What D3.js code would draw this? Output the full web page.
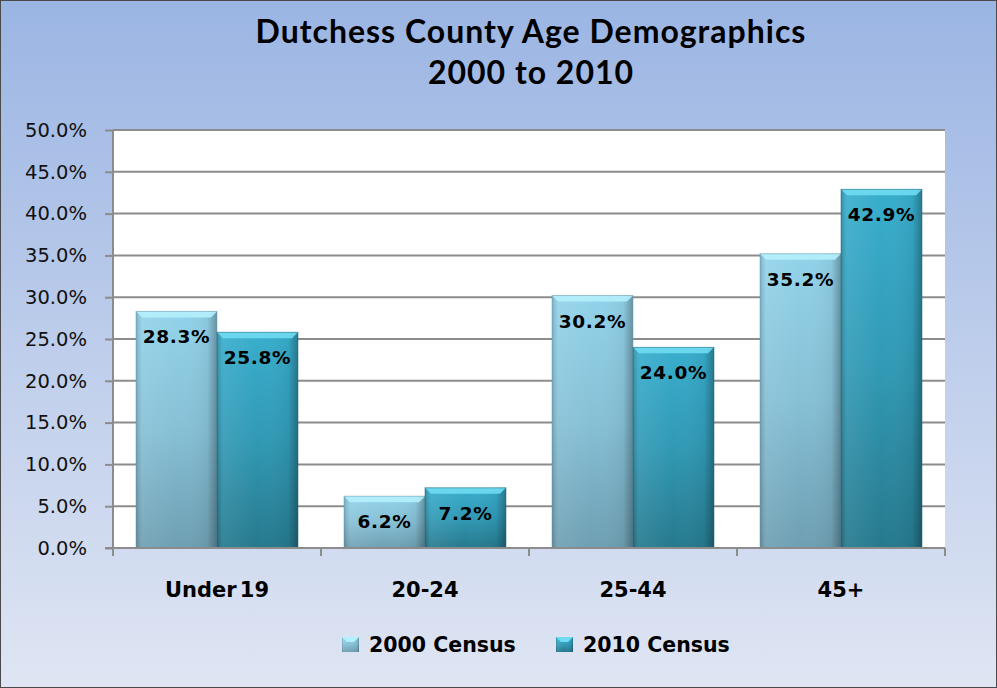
<!DOCTYPE html>
<html>
<head>
<meta charset="utf-8">
<script src="https://cdn.jsdelivr.net/npm/d3@7"></script>
<style>
  body { margin: 0; background: #fff; }
  svg { display: block; }
</style>
</head>
<body>
<svg width="997" height="688"></svg>
<script>
// Data
var categories = ["Under 19", "20-24", "25-44", "45+"];
var seriesNames = ["2000 Census", "2010 Census"];
var census2000 = [28.3, 6.2, 30.2, 35.2];
var census2010 = [25.8, 7.2, 24.0, 42.9];
var yTicks = [0, 5, 10, 15, 20, 25, 30, 35, 40, 45, 50];

var svg = d3.select("svg");
var W = 997, H = 688;
var margin = {top: 130, right: 52, bottom: 140, left: 113};
var width = W - margin.left - margin.right;
var height = H - margin.top - margin.bottom;

var defs = svg.append("defs");

// background
var bg = defs.append("linearGradient").attr("id", "bg").attr("x1", 0).attr("y1", 0).attr("x2", 0).attr("y2", 1);
bg.append("stop").attr("offset", "0%").attr("stop-color", "#9bb5e3");
bg.append("stop").attr("offset", "100%").attr("stop-color", "#dfe5f3");

// bar fills (vertical)
var fills = [
  ["#92d3ea", "#86c0d6", "#6e9fb2"],
  ["#38aecd", "#3199b5", "#26798d"]
];
fills.forEach(function(c, i) {
  var g = defs.append("linearGradient").attr("id", "fill" + i).attr("x1", 0).attr("y1", 0).attr("x2", 0).attr("y2", 1);
  g.append("stop").attr("offset", "0%").attr("stop-color", c[0]);
  g.append("stop").attr("offset", "50%").attr("stop-color", c[1]);
  g.append("stop").attr("offset", "100%").attr("stop-color", c[2]);
});
// edge shading (horizontal)
var edge = defs.append("linearGradient").attr("id", "edge").attr("x1", 0).attr("y1", 0).attr("x2", 1).attr("y2", 0);
edge.append("stop").attr("offset", "0%").attr("stop-color", "#000").attr("stop-opacity", 0.18);
edge.append("stop").attr("offset", "8%").attr("stop-color", "#fff").attr("stop-opacity", 0.08);
edge.append("stop").attr("offset", "50%").attr("stop-color", "#fff").attr("stop-opacity", 0);
edge.append("stop").attr("offset", "88%").attr("stop-color", "#000").attr("stop-opacity", 0.05);
edge.append("stop").attr("offset", "100%").attr("stop-color", "#000").attr("stop-opacity", 0.3);

svg.append("rect").attr("x", 0.5).attr("y", 0.5).attr("width", W - 1).attr("height", H - 1)
  .attr("fill", "url(#bg)").attr("stroke", "#4a4a4a").attr("stroke-width", 1);

// title
var title = svg.append("text").attr("text-anchor", "middle")
  .style("font-family", "Lato, 'Open Sans', sans-serif").style("font-weight", "bold")
  .style("font-size", "32px").style("letter-spacing", "1px").attr("fill", "#000");
title.append("tspan").attr("x", 531).attr("y", 43).text("Dutchess County Age Demographics");
title.append("tspan").attr("x", 531).attr("y", 84).text("2000 to 2010");

var g = svg.append("g").attr("transform", "translate(" + margin.left + "," + margin.top + ")");

var x0 = d3.scaleBand().domain(categories).range([0, width]).paddingInner(0).paddingOuter(0);
var x1 = d3.scaleBand().domain([0, 1]).range([23, x0.bandwidth() - 23]);
var y = d3.scaleLinear().domain([0, 50]).range([height, 0]);

// plot area
g.append("rect").attr("width", width).attr("height", height).attr("fill", "#fff");

// gridlines
g.append("g").selectAll("line").data(yTicks.slice(1)).enter().append("line")
  .attr("x1", 0).attr("x2", width)
  .attr("y1", function(d) { return y(d); }).attr("y2", function(d) { return y(d); })
  .attr("stroke", "#8c8c8c").attr("stroke-width", 2);

var fontTick = "'DejaVu Sans', Verdana, sans-serif";

// y axis
var yAxis = g.append("g")
  .call(d3.axisLeft(y).tickValues(yTicks).tickSize(8).tickPadding(18)
    .tickFormat(function(d) { return d.toFixed(1) + "%"; }));
yAxis.select(".domain").attr("stroke", "#8c8c8c").attr("stroke-width", 2).attr("d", "M0," + height + "V0");
yAxis.selectAll(".tick line").attr("stroke", "#8c8c8c").attr("stroke-width", 2);
yAxis.selectAll(".tick text").style("font-family", fontTick).style("font-size", "19.5px")
  .attr("fill", "#111");

// bars
var series = [census2000, census2010];
categories.forEach(function(cat, ci) {
  series.forEach(function(vals, si) {
    var bx = x0(cat) + x1(si), bw = x1.bandwidth();
    var by = y(vals[ci]), bh = height - by;
    var bar = g.append("g");
    bar.append("rect").attr("x", bx).attr("y", by).attr("width", bw).attr("height", bh)
      .attr("fill", "url(#fill" + si + ")");
    bar.append("rect").attr("x", bx).attr("y", by).attr("width", bw).attr("height", bh)
      .attr("fill", "url(#edge)");
    // top bevel
    var bv = 6;
    bar.append("polygon")
      .attr("points", [[bx, by], [bx + bw, by], [bx + bw - bv, by + bv], [bx + bv, by + bv]].join(" "))
      .attr("fill", si === 0 ? "#b4effc" : "#6fdcf2").attr("opacity", 0.9);
    bar.append("rect").attr("x", bx).attr("y", by).attr("width", bw).attr("height", bh)
      .attr("fill", "none").attr("stroke", si === 0 ? "#6a9aac" : "#1f6474").attr("stroke-width", 1).attr("stroke-opacity", 0.5);
    bar.append("text").attr("x", bx + bw / 2).attr("y", by + 32).attr("text-anchor", "middle")
      .style("font-family", fontTick).style("font-weight", "bold").style("font-size", "18.5px")
      .style("letter-spacing", "0.7px").attr("fill", "#000")
      .text(vals[ci].toFixed(1) + "%");
  });
});

// x axis
var xAxis = g.append("g").attr("transform", "translate(0," + height + ")");
xAxis.append("line").attr("x1", -8).attr("x2", width).attr("stroke", "#8c8c8c").attr("stroke-width", 2);
xAxis.selectAll(".ct").data(d3.range(categories.length + 1)).enter().append("line")
  .attr("x1", function(i) { return i * x0.step(); }).attr("x2", function(i) { return i * x0.step(); })
  .attr("y1", 0).attr("y2", 8).attr("stroke", "#8c8c8c").attr("stroke-width", 2);
xAxis.selectAll(".cl").data(categories).enter().append("text")
  .attr("x", function(d) { return x0(d) + x0.bandwidth() / 2; }).attr("y", 49)
  .attr("text-anchor", "middle")
  .style("font-family", fontTick).style("font-weight", "bold").style("font-size", "21px")
  .style("word-spacing", "-4px").attr("fill", "#000")
  .text(function(d) { return d; });

// legend
var legend = svg.append("g");
var legX = [342, 556];
seriesNames.forEach(function(name, i) {
  var lg = legend.append("g").attr("transform", "translate(" + legX[i] + ",637)");
  lg.append("rect").attr("width", 17).attr("height", 15).attr("fill", "url(#fill" + i + ")");
  lg.append("rect").attr("width", 17).attr("height", 15).attr("fill", "url(#edge)");
  lg.append("polygon").attr("points", "0,0 17,0 12,5 5,5").attr("fill", i === 0 ? "#b4effc" : "#6fdcf2");
  lg.append("text").attr("x", 27).attr("y", 15)
    .style("font-family", fontTick).style("font-weight", "bold").style("font-size", "20.5px")
    .attr("fill", "#000").text(name);
});
</script>
</body>
</html>
